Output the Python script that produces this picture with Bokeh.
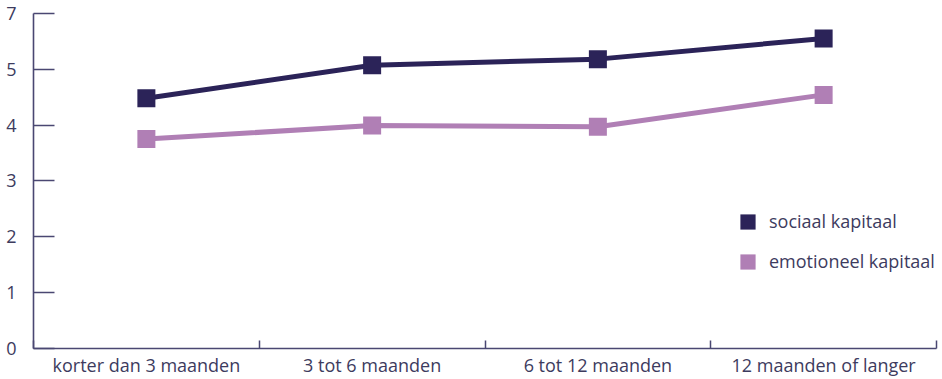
from bokeh.plotting import figure
from bokeh.models import (Range1d, FixedTicker, Legend, LegendItem)
from bokeh.embed import file_html
from bokeh.resources import INLINE

categories = ["korter dan 3 maanden", "3 tot 6 maanden", "6 tot 12 maanden", "12 maanden of langer"]
sociaal = [4.48, 5.07, 5.18, 5.55]
emotioneel = [3.75, 3.99, 3.97, 4.54]
y_ticks = [0, 1, 2, 3, 4, 5, 6]
y_tick_labels = ["0", "1", "2", "3", "4", "5", "7"]

NAVY = "#2b2358"
LILAC = "#b07fb5"
AXIS = "#4a4772"
TEXT = "#3d3b5e"
FONT = "Open Sans"
FONT_SIZE = "18px"

xs = list(range(len(categories)))

p = figure(width=942, height=379, output_backend="svg", toolbar_location=None,
           x_range=Range1d(-0.5, len(categories) - 0.5), y_range=Range1d(0, 6.14),
           min_border_left=33, min_border_right=6, min_border_top=5, min_border_bottom=29)
p.outline_line_color = None
p.xgrid.visible = False
p.ygrid.visible = False
p.background_fill_color = "white"
p.border_fill_color = "white"

# series lines
p.line(xs, sociaal, line_color=NAVY, line_width=5)
p.line(xs, emotioneel, line_color=LILAC, line_width=5)

# square markers as screen-sized rects so the legend shows a filled box
r_soc = p.rect(xs, sociaal, width=18, height=18, width_units="screen", height_units="screen",
               fill_color=NAVY, line_color=None)
r_emo = p.rect(xs, emotioneel, width=18, height=18, width_units="screen", height_units="screen",
               fill_color=LILAC, line_color=None)

# x axis: labels at category centres, tick marks at category boundaries
xa = p.xaxis[0]
xa.ticker = FixedTicker(ticks=xs, minor_ticks=[i - 0.5 for i in range(len(categories) + 1)])
xa.major_label_overrides = {i: c for i, c in enumerate(categories)}
xa.major_tick_in = 0
xa.major_tick_out = 0
xa.minor_tick_in = 8
xa.minor_tick_out = 0
xa.minor_tick_line_color = AXIS
xa.minor_tick_line_width = 1.5
xa.axis_line_color = AXIS
xa.axis_line_width = 1.6
xa.major_label_text_font = FONT
xa.major_label_text_font_size = FONT_SIZE
xa.major_label_text_color = TEXT
xa.major_label_standoff = 4

ya = p.yaxis[0]
ya.ticker = FixedTicker(ticks=y_ticks, minor_ticks=[])
ya.major_label_overrides = {t: l for t, l in zip(y_ticks, y_tick_labels)}
ya.bounds = (0, 6)
ya.major_tick_in = 21
ya.major_tick_out = 0
ya.major_tick_line_color = AXIS
ya.major_tick_line_width = 1.5
ya.axis_line_color = AXIS
ya.axis_line_width = 1.6
ya.major_label_text_font = FONT
ya.major_label_text_font_size = FONT_SIZE
ya.major_label_text_color = TEXT
ya.major_label_standoff = 17

legend = Legend(items=[LegendItem(label="sociaal kapitaal", renderers=[r_soc]),
                       LegendItem(label="emotioneel kapitaal", renderers=[r_emo])],
                location=(705, 75), padding=0, margin=0, spacing=16,
                glyph_width=19, glyph_height=19, label_height=19, label_standoff=12,
                border_line_color=None, background_fill_alpha=0,
                label_text_font=FONT, label_text_font_size=FONT_SIZE, label_text_color=TEXT)
p.add_layout(legend)

open("out.html", "w").write(file_html(p, INLINE))
